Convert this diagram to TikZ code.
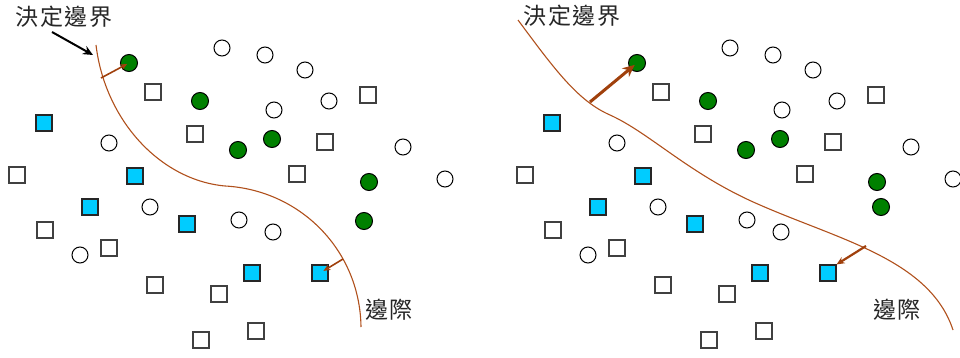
\documentclass[tikz,border=0pt]{standalone}
\usepackage{fontspec}
\newfontfamily\cjk[LetterSpace=8]{Noto Sans CJK TC}
\usetikzlibrary{arrows.meta}
\definecolor{ptgreen}{RGB}{0,128,0}
\definecolor{ptcyan}{RGB}{0,204,255}
\definecolor{bdbrown}{RGB}{176,80,28}
\definecolor{arbrown}{RGB}{160,64,12}
\tikzset{
  opencirc/.style={circle,draw=black,line width=1pt,fill=white,minimum size=16pt,inner sep=0pt},
  greencirc/.style={circle,draw=black,line width=1pt,fill=ptgreen,minimum size=17pt,inner sep=0pt},
  opensq/.style={rectangle,draw=black!75,line width=1.2pt,fill=white,minimum size=16pt,inner sep=0pt},
  cyansq/.style={rectangle,draw=black!85,line width=1.2pt,fill=ptcyan,minimum size=16pt,inner sep=0pt},
  boundary/.style={draw=bdbrown,line width=1.1pt},
  marginarrow/.style={draw=arbrown,line width=1.6pt,-{Stealth[length=7pt,width=6pt]}},
  bigarrow/.style={draw=arbrown,line width=3pt,-{Stealth[length=12pt,width=11pt]}},
  midarrow/.style={draw=arbrown,line width=2.2pt,-{Stealth[length=8pt,width=7pt]}},
  pointer/.style={draw=black,line width=2pt,-{Stealth[length=10pt,width=9pt]}},
  cjklabel/.style={font=\cjk\fontsize{23}{23}\selectfont,inner sep=0pt,text=black!85}
}
\begin{document}
\begin{tikzpicture}[x=1pt,y=-1pt]
\useasboundingbox (0,0) rectangle (960,358);

% ---------- left panel: a curved decision boundary ----------
\begin{scope}
\node[cjklabel] (ltitle) at (64,17) {決定邊界};
\node[cjklabel] (lmargin) at (389,310) {邊際};

\draw[boundary] (96,45) .. controls (105,120) and (160,180) .. (225,186)
                        .. controls (300,190) and (360,250) .. (361,327);

\node[opencirc] (lo1) at (222,48) {};
\node[opencirc] (lo2) at (265,55) {};
\node[opencirc] (lo3) at (305,70) {};
\node[opencirc] (lo4) at (274,110) {};
\node[opencirc] (lo5) at (329,101) {};
\node[opencirc] (lo6) at (109,143) {};
\node[opencirc] (lo7) at (403,147) {};
\node[opencirc] (lo8) at (445,179) {};
\node[opencirc] (lo9) at (150,207) {};
\node[opencirc] (lo10) at (239,220) {};
\node[opencirc] (lo11) at (273,232) {};
\node[opencirc] (lo12) at (80,255) {};

\node[greencirc] (lg1) at (129,63) {};
\node[greencirc] (lg2) at (200,101) {};
\node[greencirc] (lg3) at (238,150) {};
\node[greencirc] (lg4) at (272,139) {};
\node[greencirc] (lg5) at (369,182) {};
\node[greencirc] (lg6) at (364,221) {};

\node[opensq] (ls1) at (153,92) {};
\node[opensq] (ls2) at (368,95) {};
\node[opensq] (ls3) at (195,134) {};
\node[opensq] (ls4) at (325,142) {};
\node[opensq] (ls5) at (17,175) {};
\node[opensq] (ls6) at (297,174) {};
\node[opensq] (ls7) at (45,230) {};
\node[opensq] (ls8) at (109,248) {};
\node[opensq] (ls9) at (155,285) {};
\node[opensq] (ls10) at (219,294) {};
\node[opensq] (ls11) at (256,331) {};
\node[opensq] (ls12) at (201,340) {};

\node[cyansq] (lc1) at (44,123) {};
\node[cyansq] (lc2) at (135,176) {};
\node[cyansq] (lc3) at (90,207) {};
\node[cyansq] (lc4) at (187,224) {};
\node[cyansq] (lc5) at (252,273) {};
\node[cyansq] (lc6) at (320,273) {};

\coordinate (lb1) at (101,78);
\coordinate (lb2) at (343,259);
\coordinate (lpt) at (52,32);
\coordinate (lpe) at (93,55);
\draw[marginarrow,shorten >=2pt] (lb1) -- (lg1.center);
\draw[marginarrow,shorten >=4pt] (lb2) -- (lc6.center);
\draw[pointer] (lpt) -- (lpe);
\end{scope}

% ---------- right panel: a wider-margin boundary ----------
\begin{scope}
\node[cjklabel] (rtitle) at (572,16) {決定邊界};
\node[cjklabel] (rmargin) at (897,310) {邊際};

\draw[boundary] (518,20) .. controls (555,70) and (578,101) .. (610,115)
                         .. controls (650,133) and (690,175) .. (760,205)
                         .. controls (840,240) and (930,260) .. (953,330);

\node[opencirc] (ro1) at (730,48) {};
\node[opencirc] (ro2) at (773,55) {};
\node[opencirc] (ro3) at (813,70) {};
\node[opencirc] (ro4) at (782,110) {};
\node[opencirc] (ro5) at (837,101) {};
\node[opencirc] (ro6) at (617,143) {};
\node[opencirc] (ro7) at (911,147) {};
\node[opencirc] (ro8) at (953,179) {};
\node[opencirc] (ro9) at (658,207) {};
\node[opencirc] (ro10) at (747,220) {};
\node[opencirc] (ro11) at (781,232) {};
\node[opencirc] (ro12) at (588,255) {};

\node[greencirc] (rg1) at (637,63) {};
\node[greencirc] (rg2) at (708,101) {};
\node[greencirc] (rg3) at (746,150) {};
\node[greencirc] (rg4) at (780,139) {};
\node[greencirc] (rg5) at (877,182) {};
\node[greencirc] (rg6) at (881,207) {};

\node[opensq] (rs1) at (661,92) {};
\node[opensq] (rs2) at (876,95) {};
\node[opensq] (rs3) at (703,134) {};
\node[opensq] (rs4) at (833,142) {};
\node[opensq] (rs5) at (525,175) {};
\node[opensq] (rs6) at (805,174) {};
\node[opensq] (rs7) at (553,230) {};
\node[opensq] (rs8) at (617,248) {};
\node[opensq] (rs9) at (663,285) {};
\node[opensq] (rs10) at (727,294) {};
\node[opensq] (rs11) at (764,331) {};
\node[opensq] (rs12) at (709,340) {};

\node[cyansq] (rc1) at (552,123) {};
\node[cyansq] (rc2) at (643,176) {};
\node[cyansq] (rc3) at (598,207) {};
\node[cyansq] (rc4) at (695,224) {};
\node[cyansq] (rc5) at (760,273) {};
\node[cyansq] (rc6) at (828,273) {};

\coordinate (rb1) at (590,102);
\coordinate (rb2) at (866,246);
\draw[bigarrow,shorten >=3pt] (rb1) -- (rg1.center);
\draw[midarrow] (rb2) -- (rc6.north east);
\end{scope}
\end{tikzpicture}
\end{document}
